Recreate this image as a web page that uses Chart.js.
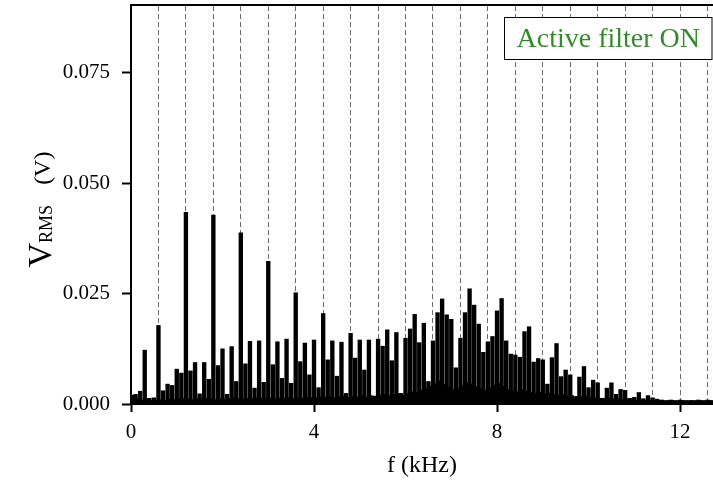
<!DOCTYPE html>
<html>
<head>
<meta charset="utf-8">
<script src="https://cdn.jsdelivr.net/npm/chart.js@4.4.1/dist/chart.umd.min.js"></script>
<style>
  html, body { margin: 0; padding: 0; background: #fff; }
</style>
</head>
<body>
<canvas id="spectrum" width="713" height="482"></canvas>
<script>
// harmonic lines, one every 0.1 kHz from 0.1 to 12.7 kHz (V RMS)
const harmonicVrms = [
  0.0022, 0.0029, 0.0122, 0.0013, 0.0014, 0.0178, 0.0030, 0.0045, 0.0042, 0.0079, // 0.1 - 1.0
  0.0070, 0.0434, 0.0075, 0.0094, 0.0023, 0.0094, 0.0056, 0.0428, 0.0087, 0.0125, // 1.1 - 2.0
  0.0022, 0.0130, 0.0051, 0.0388, 0.0091, 0.0142, 0.0036, 0.0143, 0.0049, 0.0323, // 2.1 - 3.0
  0.0089, 0.0141, 0.0058, 0.0147, 0.0047, 0.0252, 0.0096, 0.0138, 0.0066, 0.0145, // 3.1 - 4.0
  0.0037, 0.0205, 0.0100, 0.0143, 0.0063, 0.0140, 0.0024, 0.0160, 0.0104, 0.0145, // 4.1 - 5.0
  0.0077, 0.0145, 0.0018, 0.0147, 0.0131, 0.0168, 0.0098, 0.0162, 0.0024, 0.0149, // 5.1 - 6.0
  0.0170, 0.0203, 0.0139, 0.0183, 0.0051, 0.0143, 0.0207, 0.0238, 0.0202, 0.0192, // 6.1 - 7.0
  0.0082, 0.0149, 0.0207, 0.0261, 0.0224, 0.0181, 0.0117, 0.0141, 0.0153, 0.0211, // 7.1 - 8.0
  0.0239, 0.0143, 0.0113, 0.0111, 0.0106, 0.0164, 0.0175, 0.0095, 0.0103, 0.0100, // 8.1 - 9.0
  0.0045, 0.0105, 0.0137, 0.0062, 0.0077, 0.0066, 0.0017, 0.0061, 0.0085, 0.0037, // 9.1 - 10.0
  0.0054, 0.0048, 0.0013, 0.0036, 0.0048, 0.0022, 0.0033, 0.0031, 0.0013, 0.0015, // 10.1 - 11.0
  0.0026, 0.0012, 0.0019, 0.0014, 0.0011, 0.0009, 0.0008, 0.0009, 0.0008, 0.0009, // 11.1 - 12.0
  0.0008, 0.0008, 0.0008, 0.0009, 0.0008, 0.0009, 0.0008                          // 12.1 - 12.7
];

// interharmonic lines half way between them, 0.05 to 12.65 kHz
const interVrms = [
  0.0020, 0.0011, 0.0009, 0.0010, 0.0008, 0.0009, 0.0010, 0.0009, 0.0011, 0.0010,
  0.0012, 0.0013, 0.0011, 0.0010, 0.0012, 0.0011, 0.0013, 0.0012, 0.0010, 0.0012,
  0.0011, 0.0013, 0.0014, 0.0012, 0.0011, 0.0013, 0.0012, 0.0014, 0.0013, 0.0012,
  0.0013, 0.0012, 0.0014, 0.0013, 0.0015, 0.0012, 0.0014, 0.0013, 0.0015, 0.0014,
  0.0014, 0.0016, 0.0015, 0.0017, 0.0014, 0.0016, 0.0018, 0.0015, 0.0017, 0.0016,
  0.0018, 0.0016, 0.0019, 0.0017, 0.0020, 0.0022, 0.0019, 0.0021, 0.0023, 0.0020,
  0.0024, 0.0028, 0.0026, 0.0031, 0.0035, 0.0040, 0.0046, 0.0052, 0.0044, 0.0038,
  0.0033, 0.0036, 0.0042, 0.0048, 0.0045, 0.0039, 0.0035, 0.0031, 0.0037, 0.0043,
  0.0047, 0.0040, 0.0033, 0.0030, 0.0028, 0.0032, 0.0029, 0.0026, 0.0024, 0.0027,
  0.0023, 0.0025, 0.0022, 0.0020, 0.0021, 0.0018, 0.0019, 0.0017, 0.0016, 0.0018,
  0.0015, 0.0014, 0.0013, 0.0012, 0.0013, 0.0011, 0.0012, 0.0010, 0.0011, 0.0010,
  0.0009, 0.0009, 0.0008, 0.0009, 0.0008, 0.0008, 0.0007, 0.0008, 0.0008, 0.0007,
  0.0008, 0.0007, 0.0008, 0.0007, 0.0008, 0.0007, 0.0008
];

const lineStepKHz = 0.1;
const harmonicFreqs = harmonicVrms.map((v, i) => (i + 1) * lineStepKHz);
const interFreqs = interVrms.map((v, i) => (i + 0.5) * lineStepKHz);

// dashed reference lines (multiples of 600 Hz)
const markerFreqs = [0.6, 1.2, 1.8, 2.4, 3.0, 3.6, 4.2, 4.8, 5.4, 6.0, 6.6,
                     7.2, 7.8, 8.4, 9.0, 9.6, 10.2, 10.8, 11.4, 12.0, 12.6];

const xTickValues = [0, 4, 8, 12];
const yTickValues = [0, 0.025, 0.05, 0.075];
const xMaxKHz = 12.72;
const yMaxV = 0.0904;

const xTitle = 'f (kHz)';
const yTitleMain = 'V';
const yTitleSub = 'RMS';
const yTitleUnit = '(V)';
const noteText = 'Active filter ON';

const serif = '"Liberation Serif", "Times New Roman", serif';

// y axis title with a subscript, chart.js titles can't do that
const yTitlePlugin = {
  id: 'yTitle',
  afterDraw(chart) {
    const { ctx, chartArea } = chart;
    const bigV = '34px ' + serif, sub = '18px ' + serif, unit = '24px ' + serif;
    ctx.save();
    ctx.font = bigV; const w1 = ctx.measureText(yTitleMain).width;
    ctx.font = sub; const w2 = ctx.measureText(yTitleSub).width;
    ctx.font = unit; const w3 = ctx.measureText(yTitleUnit).width;
    const gap = 20;
    const total = w1 + w2 + gap + w3;
    const cy = (chartArea.top + chartArea.bottom) / 2 + 5;
    ctx.translate(51, cy);
    ctx.rotate(-Math.PI / 2);
    ctx.fillStyle = '#000';
    ctx.textBaseline = 'alphabetic';
    let x = -total / 2;
    ctx.font = bigV; ctx.fillText(yTitleMain, x, 0); x += w1;
    ctx.font = sub; ctx.fillText(yTitleSub, x, 1); x += w2 + gap;
    ctx.font = unit; ctx.fillText(yTitleUnit, x, -1);
    ctx.restore();
  }
};

// boxed note in the upper right corner
const notePlugin = {
  id: 'note',
  afterDraw(chart) {
    const { ctx, chartArea } = chart;
    ctx.save();
    ctx.font = '28px ' + serif;
    const tw = ctx.measureText(noteText).width;
    const w = tw + 24, h = 42;
    const x0 = Math.round(chartArea.right - 2 - w) + 0.5;
    const y0 = Math.round(chartArea.top + 12) + 0.5;
    ctx.fillStyle = '#fff';
    ctx.fillRect(x0, y0, w, h);
    ctx.strokeStyle = '#000';
    ctx.lineWidth = 1;
    ctx.strokeRect(x0, y0, w, h);
    ctx.fillStyle = '#348a2c';
    ctx.textAlign = 'center';
    ctx.textBaseline = 'middle';
    ctx.fillText(noteText, x0 + w / 2, y0 + h / 2 + 1);
    ctx.restore();
  }
};

new Chart(document.getElementById('spectrum'), {
  type: 'bar',
  data: {
    datasets: [
      {
        label: 'interharmonics',
        data: interVrms.map((v, i) => ({ x: interFreqs[i], y: v })),
        backgroundColor: '#000',
        barThickness: 2,
        grouped: false
      },
      {
        label: 'harmonics',
        data: harmonicVrms.map((v, i) => ({ x: harmonicFreqs[i], y: v })),
        backgroundColor: '#000',
        barThickness: 3.7,
        grouped: false
      }
    ]
  },
  options: {
    responsive: false,
    animation: false,
    devicePixelRatio: 1,
    layout: { padding: { top: 5, left: 0, right: 0, bottom: 0 } },
    plugins: {
      legend: { display: false },
      tooltip: { enabled: false }
    },
    scales: {
      x: {
        type: 'linear',
        position: 'bottom',
        min: 0,
        max: xMaxKHz,
        offset: false,
        afterBuildTicks: s => { s.ticks = xTickValues.map(v => ({ value: v })); },
        afterFit: s => { s.height = 78; s.paddingLeft = 0; s.paddingRight = 0; },
        ticks: {
          font: { family: serif, size: 21 },
          color: '#000',
          padding: 8,
          maxRotation: 0,
          callback: v => String(v)
        },
        grid: { drawOnChartArea: false, drawTicks: true, tickLength: 8, tickWidth: 2, tickColor: '#000', offset: false },
        border: { display: true, color: '#000', width: 2 },
        title: {
          display: true,
          text: xTitle,
          font: { family: serif, size: 24 },
          color: '#000',
          padding: { top: 0, bottom: 2 }
        }
      },
      markers: {
        type: 'linear',
        position: 'top',
        min: 0,
        max: xMaxKHz,
        offset: false,
        afterBuildTicks: s => { s.ticks = markerFreqs.map(v => ({ value: v })); },
        afterFit: s => { s.height = 0; s.paddingLeft = 0; s.paddingRight = 0; },
        ticks: { display: false },
        grid: { drawOnChartArea: true, drawTicks: false, color: '#6e6e6e', lineWidth: 1, offset: false },
        border: { display: true, color: '#000', width: 2, dash: [5, 3] }
      },
      y: {
        type: 'linear',
        position: 'left',
        min: 0,
        max: yMaxV,
        afterBuildTicks: s => { s.ticks = yTickValues.map(v => ({ value: v })); },
        afterFit: s => { s.width = 131; s.paddingTop = 0; s.paddingBottom = 0; },
        ticks: {
          font: { family: serif, size: 21 },
          color: '#000',
          padding: 12,
          callback: v => v.toFixed(3)
        },
        grid: { drawOnChartArea: false, drawTicks: true, tickLength: 9, tickWidth: 2, tickColor: '#000' },
        border: { display: true, color: '#000', width: 2 }
      }
    }
  },
  plugins: [yTitlePlugin, notePlugin]
});
</script>
</body>
</html>
